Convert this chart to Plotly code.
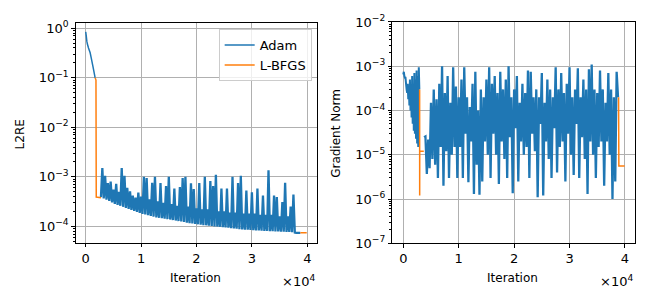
import plotly.graph_objects as go

# ---------------- data ----------------
# Left panel: L2RE
l2re_adam1_iter = [0, 100, 200, 300, 500, 800, 1000, 1300, 1500, 1700]
l2re_adam1 = [0.85, 0.7, 0.55, 0.48, 0.4, 0.32, 0.25, 0.17, 0.13, 0.1]

l2re_lbfgs1_iter = [1700, 1850, 1900, 2750]
l2re_lbfgs1 = [0.1, 0.09, 3.9e-4, 3.8e-4]

l2re_adam2_start = 2750
l2re_adam2_step = 250
l2re_adam2_e4 = [  # units of 1e-4
    3.9, 15, 3.65, 10.5, 3.45, 7.5, 3.25, 8, 3.05, 5.5,
    2.85, 7.2, 2.72, 5.0, 2.6, 15, 2.48, 10.5, 2.36, 6,
    2.25, 5.1, 2.15, 4.2, 2.05, 3.8, 1.96, 4.8, 1.87, 4.0,
    1.78, 10, 1.73, 9.5, 1.68, 3.5, 1.63, 7.6, 1.57, 10,
    1.52, 3.2, 1.49, 7.5, 1.46, 3.0, 1.43, 6.5, 1.4, 10,
    1.37, 2.8, 1.34, 5.8, 1.31, 2.6, 1.28, 6.2, 1.25, 9.5,
    1.22, 10, 1.19, 2.5, 1.16, 7.4, 1.14, 5.7, 1.12, 2.3,
    1.1, 7.5, 1.08, 2.2, 1.06, 10, 1.05, 2.2, 1.03, 8.2,
    1.02, 6.5, 1.0, 11, 0.99, 2.0, 0.98, 5.8, 0.96, 2.0,
    0.95, 5.8, 0.94, 1.9, 0.92, 10, 0.91, 1.9, 0.9, 7.5,
    0.88, 10.5, 0.87, 1.8, 0.86, 5.3, 0.86, 1.8, 0.85, 4.9,
    0.84, 1.8, 0.83, 5.8, 0.83, 1.7, 0.82, 4.2, 0.81, 1.7,
    0.81, 13.5, 0.8, 1.7, 0.8, 4.2, 0.79, 3.9, 0.79, 1.6,
    0.78, 3.1, 0.78, 7.6, 0.77, 1.6, 0.77, 2.5, 0.76, 4.4,
    0.75, 0.74, 0.74, 0.74, 0.74,
]

l2re_lbfgs2_iter = [38750, 39900]
l2re_lbfgs2 = [7.4e-5, 7.4e-5]

# Right panel: gradient norm
grad_adam1_start = 0
grad_adam1_step = 100
grad_adam1 = [
    6.5e-4, 7.5e-4, 6e-4, 5.5e-4, 5.5e-4, 4e-4, 3e-4, 2.5e-4, 4e-4, 1.8e-4,
    3.5e-4, 1.3e-4, 5e-4, 1e-4, 3e-4, 7e-5, 6e-4, 5e-5, 4e-4, 3.5e-5,
    7e-4, 3e-5, 5e-4, 2.3e-5, 8e-4, 1.8e-5, 6e-4, 1.5e-5, 9.5e-4, 3e-4,
]

grad_lbfgs1_iter = [2950, 2960, 2970, 3700]
grad_lbfgs1 = [3e-4, 1.2e-6, 1.2e-5, 1.2e-5]

grad_adam2_start = 3750
grad_adam2_step = 250
grad_adam2 = [
    2.5e-5, 2.6e-5, 3.7e-6, 2.2e-5, 5e-6, 1.5e-4, 8e-6, 3e-4, 6e-6, 1.8e-4,
    3e-6, 4e-4, 1.5e-5, 1e-3, 2e-6, 2.5e-4, 1.2e-5, 6e-4, 3e-6, 1.5e-4,
    1e-5, 9.5e-4, 1.5e-5, 3.5e-4, 3e-6, 2e-4, 1.5e-5, 5e-4, 3e-6, 9.5e-4,
    3e-5, 2e-4, 2.4e-6, 1.2e-4, 2e-5, 4e-4, 1.3e-6, 7.5e-4, 6e-6, 1e-4,
    1.25e-6, 3e-4, 2.5e-6, 2e-4, 2e-5, 5e-4, 1e-5, 9.5e-4, 3e-6, 4e-4,
    3e-5, 6e-4, 1e-5, 2.5e-4, 2.2e-6, 7.5e-4, 2e-5, 3e-4, 8e-6, 5e-4,
    3e-6, 1e-3, 2.5e-5, 2e-4, 1.35e-6, 3e-4, 4e-5, 6e-4, 2.5e-6, 1.5e-4,
    2e-5, 4e-4, 1e-5, 2.5e-4, 1.5e-5, 8e-4, 3e-6, 7.5e-4, 3e-5, 2e-4,
    1.2e-5, 3e-4, 1.1e-6, 2e-4, 5e-5, 7e-4, 1.2e-6, 1.5e-4, 2e-5, 5e-4,
    8e-6, 3e-4, 3e-6, 2e-4, 4e-5, 9.5e-4, 4e-6, 3e-4, 1.5e-5, 7e-4,
    2e-5, 2.5e-4, 2.5e-6, 4e-4, 3e-5, 9.5e-4, 1e-5, 2e-4, 3.5e-6, 3e-4,
    5e-5, 9e-4, 3e-6, 2e-4, 2.5e-5, 5e-4, 8e-6, 3e-4, 1.3e-6, 8.5e-4,
    2e-5, 1.1e-3, 1e-5, 3e-4, 3e-6, 2.5e-4, 1.5e-5, 8e-4, 2e-5, 3e-4,
    2e-6, 1.5e-4, 2e-5, 7e-4, 1e-5, 3e-4, 1e-6, 2e-4, 2.5e-6, 7.5e-4,
    2e-4,
]

grad_lbfgs2_iter = [38850, 38900, 39950]
grad_lbfgs2 = [2e-4, 5.6e-6, 5.6e-6]

x_tick_vals = [0, 10000, 20000, 30000, 40000]
x_tick_text = ["0", "1", "2", "3", "4"]
left_y_exps = [-4, -3, -2, -1, 0]
right_y_exps = [-7, -6, -5, -4, -3, -2]

# ---------------- derived ----------------
l2re_adam2_iter = [l2re_adam2_start + l2re_adam2_step * i for i in range(len(l2re_adam2_e4))]
l2re_adam2 = [v * 1e-4 for v in l2re_adam2_e4]
grad_adam1_iter = [grad_adam1_start + grad_adam1_step * i for i in range(len(grad_adam1))]
grad_adam2_iter = [grad_adam2_start + grad_adam2_step * i for i in range(len(grad_adam2))]


def sup_label(e):
    s = str(e).replace("-", "\u2212")
    return "10<sup>" + s + "</sup>"


minor_vals = [m * 10.0 ** k for k in range(-8, 1) for m in range(2, 10)]

BLUE = "#1f77b4"
ORANGE = "#ff7f0e"
FONT = "DejaVu Sans"

fig = go.Figure()


def line(x, y, color, name, xa, ya, show, width=1.5):
    fig.add_trace(go.Scatter(
        x=x, y=y, mode="lines", name=name, legendgroup=name, showlegend=show,
        line=dict(color=color, width=width, simplify=False),
        xaxis=xa, yaxis=ya, hoverinfo="skip"))


# blue first, orange on top
line(l2re_adam1_iter, l2re_adam1, BLUE, "Adam", "x", "y", True)
line(l2re_adam2_iter, l2re_adam2, BLUE, "Adam", "x", "y", False, width=2.3)
line(grad_adam1_iter, grad_adam1, BLUE, "Adam", "x2", "y2", False, width=2.0)
line(grad_adam2_iter, grad_adam2, BLUE, "Adam", "x2", "y2", False, width=2.3)
line(l2re_lbfgs1_iter, l2re_lbfgs1, ORANGE, "L-BFGS", "x", "y", True)
line(l2re_lbfgs2_iter, l2re_lbfgs2, ORANGE, "L-BFGS", "x", "y", False)
line(grad_lbfgs1_iter, grad_lbfgs1, ORANGE, "L-BFGS", "x2", "y2", False)
line(grad_lbfgs2_iter, grad_lbfgs2, ORANGE, "L-BFGS", "x2", "y2", False)

common_axis = dict(
    showline=True, mirror=True, linecolor="black", linewidth=1,
    ticks="outside", ticklen=3.5, tickwidth=1, tickcolor="black",
    showgrid=True, gridcolor="#b0b0b0", gridwidth=0.8, zeroline=False,
    tickfont=dict(family=FONT, size=13, color="black"),
)

xaxis_common = dict(common_axis, tickmode="array", tickvals=x_tick_vals, ticktext=x_tick_text)

minor_cfg = dict(tickmode="array", tickvals=minor_vals, ticks="outside", ticklen=2,
                 tickwidth=0.8, tickcolor="black", showgrid=False)

fig.update_layout(
    width=650, height=300,
    margin=dict(l=0, r=0, t=0, b=0),
    paper_bgcolor="white", plot_bgcolor="white",
    font=dict(family=FONT, color="black"),
    xaxis=dict(xaxis_common, domain=[0.1165, 0.4872], range=[-1805, 41697], anchor="y"),
    yaxis=dict(common_axis, domain=[0.1742, 0.9516], type="log", range=[-4.33, 0.113],
               tickmode="array", tickvals=[10.0 ** e for e in left_y_exps],
               ticktext=[sup_label(e) for e in left_y_exps], anchor="x", minor=minor_cfg),
    xaxis2=dict(xaxis_common, domain=[0.6035, 0.977], range=[-1986, 41823], anchor="y2"),
    yaxis2=dict(common_axis, domain=[0.172, 0.9541], type="log", range=[-7, -2],
                tickmode="array", tickvals=[10.0 ** e for e in right_y_exps],
                ticktext=[sup_label(e) for e in right_y_exps], anchor="x2", minor=minor_cfg),
    showlegend=True,
    legend=dict(x=0.4795, y=0.929, xanchor="right", yanchor="top",
                bgcolor="rgba(255,255,255,0.8)", bordercolor="#cccccc", borderwidth=1,
                font=dict(family=FONT, size=13, color="black"),
                itemwidth=30, tracegroupgap=0),
)

ann = []
def text(x, y, s, size, xanchor="center", angle=0):
    ann.append(dict(x=x, y=y, xref="paper", yref="paper", text=s, showarrow=False,
                    xanchor=xanchor, yanchor="middle", textangle=angle,
                    font=dict(family=FONT, size=size, color="black")))

text(0.301, 0.0506, "Iteration", 12)
text(0.788, 0.0506, "Iteration", 12)
text(0.487, 0.0387, "\u00d710<sup>4</sup>", 13, xanchor="right")
text(0.977, 0.0387, "\u00d710<sup>4</sup>", 13, xanchor="right")
text(0.0308, 0.557, "L2RE", 12, angle=-90)
text(0.517, 0.559, "Gradient Norm", 12, angle=-90)
fig.update_layout(annotations=ann)

fig.write_html("out.html", config={"displayModeBar": False},
               post_script="document.body.style.margin='0';document.body.style.overflow='hidden';")
